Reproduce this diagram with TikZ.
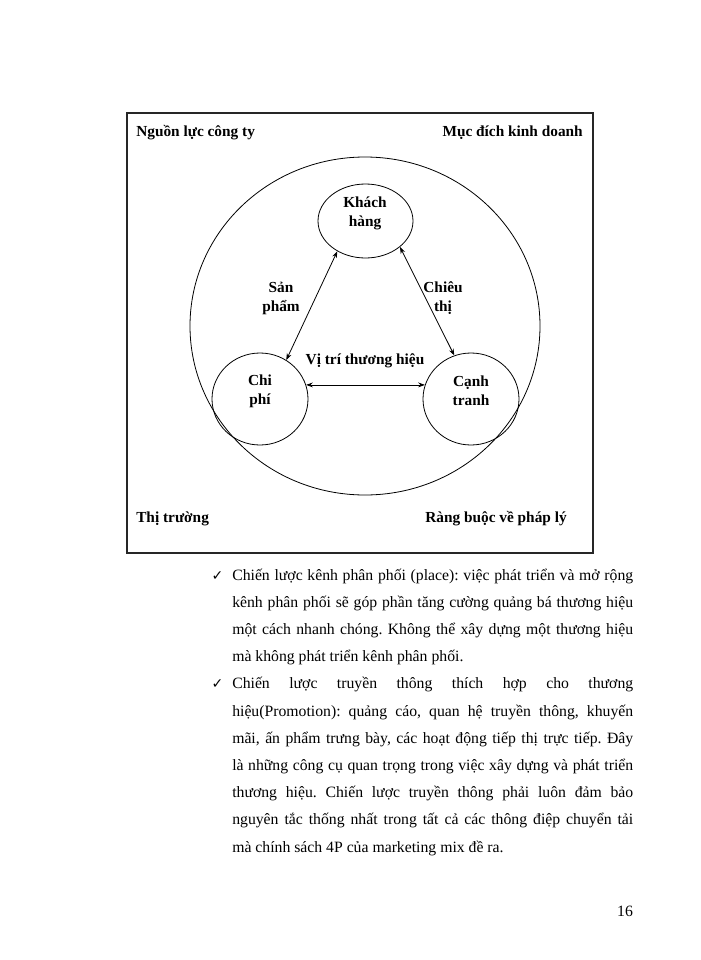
\documentclass[tikz,border=0pt]{standalone}
\usepackage{fontspec}
\setmainfont{Liberation Serif}
\newfontfamily\symfont{DejaVu Sans}
\usetikzlibrary{shapes.geometric,arrows.meta}
\newcommand{\justline}[1]{\makebox[300.75pt][s]{#1}}
\begin{document}
\frenchspacing
\begin{tikzpicture}[x=0.75pt,y=-0.75pt,
  lbl/.style={font=\fontsize{11.5}{14.25}\selectfont\bfseries, align=center, inner sep=0pt},
  circ/.style={draw, ellipse, line width=0.6pt, inner sep=0pt},
  conn/.style={line width=0.6pt, {Stealth[length=5pt,width=3.6pt]}-{Stealth[length=5pt,width=3.6pt]}},
  body/.style={font=\fontsize{11.8}{13}\selectfont, anchor=base west, inner sep=0pt},
  chk/.style={font=\symfont\fontsize{10.5}{12}\selectfont, anchor=base, inner sep=0pt},
]
\useasboundingbox[fill=white] (0,0) rectangle (700,960);
% frame
\draw[line width=0.8pt, black!85] (127,113) rectangle (593,553);
% big circle
\node[circ, minimum width=350*0.75pt, minimum height=338*0.75pt] (outer) at (365,326) {};
% small circles
\node[circ, minimum width=95*0.75pt, minimum height=74*0.75pt] (kh) at (365.5,221) {};
\node[circ, minimum width=96*0.75pt, minimum height=92*0.75pt] (cp) at (260,399) {};
\node[circ, minimum width=96*0.75pt, minimum height=92*0.75pt] (ct) at (471,399) {};
% texts in circles
\node[lbl] (tkh) at (365,213) {Khách\\hàng};
\node[lbl] (tcp) at (260,391) {Chi\\phí};
\node[lbl] (tct) at (471,391) {Cạnh\\tranh};
% arrow labels
\node[lbl] (tsp) at (281,298) {Sản\\phẩm};
\node[lbl] (tch) at (443,298) {Chiêu\\thị};
\node[lbl] (tvt) at (365,361) {Vị trí thương hiệu};
% corner labels
\node[lbl, anchor=west] (tnl) at (136,133) {Nguồn lực công ty};
\node[lbl, anchor=east] (tmd) at (583,133) {Mục đích kinh doanh};
\node[lbl, anchor=west] (ttt) at (136,519) {Thị trường};
\node[lbl, anchor=east] (trb) at (567,519) {Ràng buộc về pháp lý};
% connectors
\draw[conn] (kh.227) -- (cp.56);
\draw[conn] (kh.323) -- (ct.111);
\draw[conn] (cp.17) -- (ct.163);
% body text
\node[chk] (c1) at (217.5,580) {✓};
\node[body] (l1) at (232,580) {\justline{Chiến lược kênh phân phối (place): việc phát triển và mở rộng}};
\node[body] (l2) at (232,607) {\justline{kênh phân phối sẽ góp phần tăng cường quảng bá thương hiệu}};
\node[body] (l3) at (232,634) {\justline{một cách nhanh chóng. Không thể xây dựng một thương hiệu}};
\node[body] (l4) at (232,661) {mà không phát triển kênh phân phối.};
\node[chk] (c2) at (217.5,688) {✓};
\node[body] (m1) at (232,688) {\justline{Chiến lược truyền thông thích hợp cho thương}};
\node[body] (m2) at (232,716) {\justline{hiệu(Promotion): quảng cáo, quan hệ truyền thông, khuyến}};
\node[body] (m3) at (232,743) {\justline{mãi, ấn phẩm trưng bày, các hoạt động tiếp thị trực tiếp. Đây}};
\node[body] (m4) at (232,770) {\justline{là những công cụ quan trọng trong việc xây dựng và phát triển}};
\node[body] (m5) at (232,797) {\justline{thương hiệu. Chiến lược truyền thông phải luôn đảm bảo}};
\node[body] (m6) at (232,824) {\justline{nguyên tắc thống nhất trong tất cả các thông điệp chuyển tải}};
\node[body] (m7) at (232,852) {mà chính sách 4P của marketing mix đề ra.};
% page number
\node[body, anchor=base] (pn) at (625,916) {16};
\end{tikzpicture}
\end{document}
